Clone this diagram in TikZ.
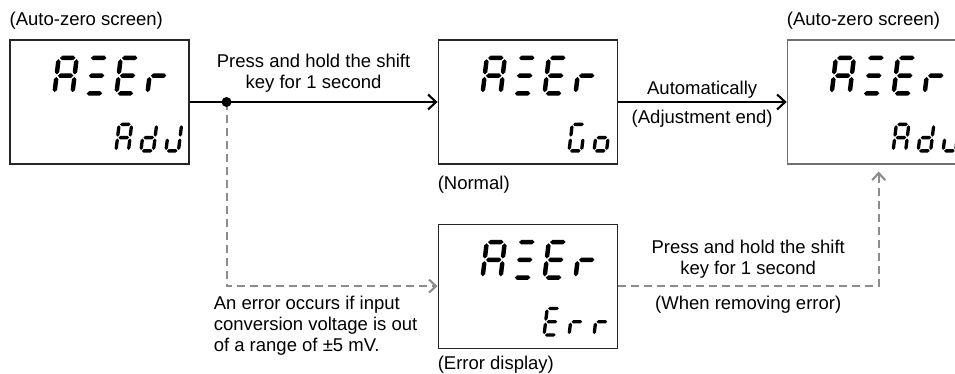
\documentclass[tikz,border=0pt]{standalone}
\usepackage{fontspec}
\setmainfont{Liberation Sans}
\usetikzlibrary{arrows.meta,positioning,calc}
\definecolor{dashgray}{HTML}{8C8C8C}
\definecolor{framegray}{HTML}{707070}
% one hexagonal LCD segment: horizontal {x1}{x2}{y}, vertical {x}{y1}{y2}
\newcommand\lcdh[3]{\fill (#1,#3) -- (#1+\segt/2,#3+\segt/2) -- (#2-\segt/2,#3+\segt/2) -- (#2,#3) -- (#2-\segt/2,#3-\segt/2) -- (#1+\segt/2,#3-\segt/2) -- cycle;}
\newcommand\lcdv[3]{\fill (#1,#2) -- (#1+\segt/2,#2+\segt/2) -- (#1+\segt/2,#3-\segt/2) -- (#1,#3) -- (#1-\segt/2,#3-\segt/2) -- (#1-\segt/2,#2+\segt/2) -- cycle;}
\newcommand\lcdsega{\lcdh{\segg}{\segw-\segg}{\segh}}
\newcommand\lcdsegb{\lcdv{\segw}{\segh/2+\segg}{\segh-\segg}}
\newcommand\lcdsegc{\lcdv{\segw}{\segg}{\segh/2-\segg}}
\newcommand\lcdsegd{\lcdh{\segg}{\segw-\segg}{0}}
\newcommand\lcdsege{\lcdv{0}{\segg}{\segh/2-\segg}}
\newcommand\lcdsegf{\lcdv{0}{\segh/2+\segg}{\segh-\segg}}
\newcommand\lcdsegg{\lcdh{\segg}{\segw-\segg}{\segh/2}}
% glyphs as lists of lit segments
\def\glyA{a,b,c,e,f,g}
\def\glyZ{a,d,g}
\def\glyE{a,d,e,f,g}
\def\glyr{e,g}
\def\glyd{b,c,d,e,g}
\def\glyJ{b,c,d,e}
\def\glyG{a,c,d,e,f}
\def\glyo{c,d,e,g}
% {x}{y}{height}{width}{segments}, x/y from the box corner
\newcommand\lcdchar[5]{%
  \begin{scope}[shift={(#1,#2)},x=1pt,y=1pt,xslant=0.12]
    \pgfmathsetmacro\segh{#3}\pgfmathsetmacro\segw{#4}%
    \pgfmathsetmacro\segt{0.125*#3}\pgfmathsetmacro\segg{0.035*#3}%
    \edef\seglist{#5}%
    \foreach \s in \seglist {\csname lcdseg\s\endcsname}%
  \end{scope}}
\newcommand\lcdtop{\lcdchar{45}{54}{35.5}{18}{\glyA}\lcdchar{76}{54}{35.5}{18}{\glyZ}\lcdchar{107}{54}{35.5}{18}{\glyE}\lcdchar{138}{54}{35.5}{18}{\glyr}}
\newcommand\lcdlow[2]{\lcdchar{#1}{111.4}{26.5}{12.5}{#2}}

\begin{document}
\begin{tikzpicture}[x=1pt,y=-1pt,every node/.style={font=\fontsize{18.5}{20.5}\selectfont,inner sep=0pt},
  lcdbox/.style={draw=black!85,line width=1.1pt,minimum width=179pt,minimum height=124pt},
  arr/.style={-{Straight Barb[length=8pt,width=15pt]},line width=2.1pt},
  darr/.style={-{Straight Barb[length=7pt,width=13pt]},dashgray,line width=2.1pt,dash pattern=on 8pt off 5pt}]
\path[use as bounding box,clip] (0,0) rectangle (955,374);
\node[lcdbox] (adj) at (99.5,102) {};
\node[lcdbox,right=248pt of adj] (go) {};
\node[lcdbox,below=59pt of go] (err) {};
\node[lcdbox,draw=framegray,right=169pt of go] (back) {};
% display contents
\begin{scope}[shift={(adj.north west)}]
  \lcdtop \lcdlow{106.5}{\glyA}\lcdlow{131.5}{\glyd}\lcdlow{156.5}{\glyJ}
\end{scope}
\begin{scope}[shift={(go.north west)}]
  \lcdtop \lcdlow{131.5}{\glyG}\lcdlow{156.5}{\glyo}
\end{scope}
\begin{scope}[shift={(err.north west)}]
  \lcdtop \lcdlow{106.5}{\glyE}\lcdlow{131.5}{\glyr}\lcdlow{156.5}{\glyr}
\end{scope}
\begin{scope}[shift={(back.north west)}]
  \lcdtop \lcdlow{106.5}{\glyA}\lcdlow{131.5}{\glyd}\lcdlow{156.5}{\glyJ}
\end{scope}
% captions
\node[anchor=base west] (az1) at ([yshift=14pt]adj.north west) {(Auto-zero screen)};
\node[anchor=base west] (az2) at ([yshift=14pt]back.north west) {(Auto-zero screen)};
\node[anchor=base west] (nrm) at ([yshift=-25pt]go.south west) {(Normal)};
\node[anchor=base west] (errd) at ([yshift=-21pt]err.south west) {(Error display)};
% connectors
\coordinate[right=37pt of adj] (split);
\coordinate (bend1) at (split |- err.west);
\coordinate (bend2) at ([xshift=2pt]back.south |- err.east);
\draw[darr] (split) -- (bend1) -- (err.west);
\draw[darr,shorten >=7pt] (err.east) -- (bend2) -- ([xshift=2pt]back.south);
\draw[arr] (adj) -- (go);
\draw[arr] (go) -- (back);
\fill (split) circle[radius=5pt];
% transition texts
\node[align=center,anchor=south] (hold1) at ($(adj.east)!0.5!(go.west)+(0,-9.5)$) {Press and hold the shift\\key for 1 second};
\node[anchor=south] (auto) at ($(go.east)!0.5!(back.west)+(0,-3)$) {Automatically};
\node[anchor=north] (adjend) at ($(go.east)!0.5!(back.west)+(0,7.5)$) {(Adjustment end)};
\node[align=center,anchor=south] (hold2) at ($(err.east)!0.5!(bend2)+(0,-8)$) {Press and hold the shift\\key for 1 second};
\node[anchor=north] (remove) at ($(err.east)!0.5!(bend2)+(0,9.5)$) {(When removing error)};
\node[align=left,anchor=north west,font=\fontsize{18.5}{21}\selectfont] (note) at ($(bend1)+(-13,10)$) {An error occurs if input\\conversion voltage is out\\of a range of ±5 mV.};
\end{tikzpicture}
\end{document}
